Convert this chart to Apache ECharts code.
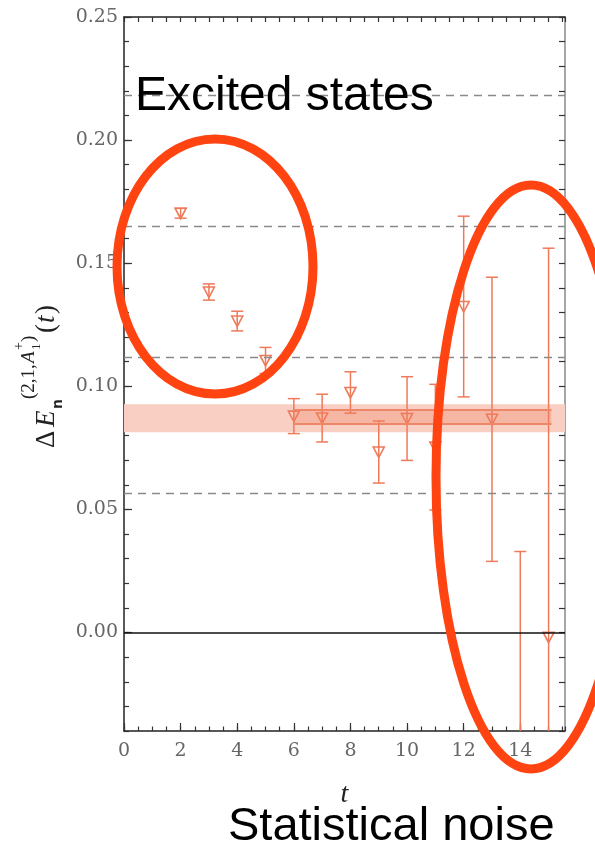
<!DOCTYPE html>
<html>
<head>
<meta charset="utf-8">
<title>Delta E plateau</title>
<script src="https://cdn.jsdelivr.net/npm/echarts@6/dist/echarts.min.js"></script>
<style>
  html, body { margin: 0; padding: 0; background: #fff; }
  #chart { width: 595px; height: 845px; }
</style>
</head>
<body>
<div id="chart"></div>
<script>
// data
var tValues   = [2, 3, 4, 5, 6, 7, 8, 9, 10, 11, 12, 13, 14, 15];
var dE        = [0.1703, 0.1383, 0.1265, 0.1105, 0.0879, 0.0871, 0.0975, 0.0733, 0.0869, 0.0753, 0.1324, 0.0866, -0.060, -0.0019];
var dEerr     = [0.0020, 0.0033, 0.0040, 0.0053, 0.0071, 0.0097, 0.0084, 0.0126, 0.0170, 0.0255, 0.0367, 0.0577, 0.0929, 0.1580];
var freeLevels = [0.0565, 0.1118, 0.1652, 0.2183];   // dashed lines
var fitOuter  = [0.0813, 0.0927];
var fitInner  = [0.0846, 0.0906];
var fitRange  = [6, 15.1];
var xTicks    = { min: 0, max: 15.58, major: 2, minor: 0.5 };
var yTicks    = { min: -0.04, max: 0.25, major: 0.05, minor: 0.01 };

var pts = tValues.map(function (t, i) { return [t, dE[i], dEerr[i]]; });

var col = '#ef7a5a';
var serif = 'DejaVu Serif';
var chart = echarts.init(document.getElementById('chart'));

function errItem(params, api) {
    var t = api.value(0), v = api.value(1), e = api.value(2);
    var hi = api.coord([t, v + e]), lo = api.coord([t, v - e]), c = api.coord([t, v]);
    var w = 6;
    return {
        type: 'group',
        children: [
            { type: 'line', shape: { x1: hi[0], y1: hi[1], x2: lo[0], y2: lo[1] }, style: { stroke: col, lineWidth: 1.5 } },
            { type: 'line', shape: { x1: hi[0] - w, y1: hi[1], x2: hi[0] + w, y2: hi[1] }, style: { stroke: col, lineWidth: 1.5 } },
            { type: 'line', shape: { x1: lo[0] - w, y1: lo[1], x2: lo[0] + w, y2: lo[1] }, style: { stroke: col, lineWidth: 1.5 } },
            { type: 'polygon', shape: { points: [[c[0] - 5.5, c[1] - 5], [c[0] + 5.5, c[1] - 5], [c[0], c[1] + 5.5]] },
              style: { stroke: col, fill: 'rgba(255,255,255,0)', lineWidth: 1.6 } }
        ]
    };
}

var noLabel = { show: false };
var tickStyle = { color: '#333', width: 1.2 };
var option = {
    animation: false,
    backgroundColor: '#fff',
    grid: { left: 124, right: 30, top: 17, bottom: 114 },
    xAxis: [
        {
            type: 'value', min: xTicks.min, max: xTicks.max, interval: xTicks.major, position: 'bottom',
            axisLine: { onZero: false, lineStyle: { color: '#222', width: 1.5 } },
            axisTick: { inside: true, length: 8, lineStyle: tickStyle },
            axisLabel: { margin: 11, fontFamily: serif, fontSize: 19, color: '#666', showMaxLabel: false },
            splitLine: { show: false },
            name: 't', nameLocation: 'middle', nameGap: 50,
            nameTextStyle: { fontFamily: 'Liberation Serif', fontStyle: 'italic', fontSize: 28, color: '#222' }
        },
        {
            type: 'value', min: xTicks.min, max: xTicks.max, interval: xTicks.minor, position: 'bottom',
            axisLine: { show: false, onZero: false }, axisLabel: noLabel, splitLine: { show: false },
            axisTick: { inside: true, length: 4.5, lineStyle: tickStyle }
        },
        {
            type: 'value', min: xTicks.min, max: xTicks.max, interval: xTicks.minor, position: 'top',
            axisLine: { onZero: false, lineStyle: { color: '#222', width: 1.5 } }, axisLabel: noLabel, splitLine: { show: false },
            axisTick: { inside: true, length: 5, lineStyle: tickStyle }
        }
    ],
    yAxis: [
        {
            type: 'value', min: yTicks.min, max: yTicks.max, minInterval: yTicks.major, maxInterval: yTicks.major,
            position: 'left',
            axisLine: { onZero: false, lineStyle: { color: '#222', width: 1.5 } },
            axisTick: { inside: true, length: 8, lineStyle: tickStyle },
            axisLabel: { margin: 6, fontFamily: serif, fontSize: 19, color: '#666', showMinLabel: false,
                         formatter: function (v) { return v.toFixed(2); } },
            splitLine: { show: false }
        },
        {
            type: 'value', min: yTicks.min, max: yTicks.max, interval: yTicks.minor, position: 'left',
            axisLine: { show: false, onZero: false }, axisLabel: noLabel, splitLine: { show: false },
            axisTick: { inside: true, length: 5, lineStyle: tickStyle }
        },
        {
            type: 'value', min: yTicks.min, max: yTicks.max, interval: yTicks.minor, position: 'right',
            axisLine: { onZero: false, lineStyle: { color: '#888', width: 1.5 } }, axisLabel: noLabel, splitLine: { show: false },
            axisTick: { inside: true, length: 6, lineStyle: tickStyle }
        }
    ],
    series: [
        {
            // fit bands
            type: 'line', data: [], z: 1, silent: true,
            markArea: {
                silent: true,
                data: [
                    [{ yAxis: fitOuter[0], itemStyle: { color: '#f9cfc4' } }, { yAxis: fitOuter[1] }],
                    [{ coord: [fitRange[0], fitInner[0]], itemStyle: { color: '#f5b6a4' } }, { coord: [fitRange[1], fitInner[1]] }]
                ]
            }
        },
        {
            // reference lines
            type: 'line', data: [], z: 2, silent: true,
            markLine: {
                silent: true, symbol: 'none', label: { show: false }, precision: 5,
                data: freeLevels.map(function (v) {
                    return { yAxis: v, lineStyle: { color: '#8a8a8a', type: [8, 6], width: 1.3 } };
                }).concat([
                    { yAxis: 0, lineStyle: { color: '#111', type: 'solid', width: 1.5 } },
                    [{ coord: [fitRange[0], fitInner[0]], lineStyle: { color: '#ee8668', type: 'solid', width: 2 } }, { coord: [fitRange[1], fitInner[0]] }],
                    [{ coord: [fitRange[0], fitInner[1]], lineStyle: { color: '#ee8668', type: 'solid', width: 2 } }, { coord: [fitRange[1], fitInner[1]] }]
                ])
            }
        },
        {
            type: 'custom', z: 3, clip: true, renderItem: errItem,
            encode: { x: 0, y: 1 }, data: pts
        }
    ],
    graphic: [
        {
            type: 'group', x: 56, y: 448, rotation: Math.PI / 2, z: 10,
            children: [
                { type: 'text', x: 0, y: -9, style: { text: 'Δ', font: '27px "Liberation Serif"', fill: '#222', verticalAlign: 'middle' } },
                { type: 'text', x: 21, y: -9, style: { text: 'E', font: 'italic 27px "Liberation Serif"', fill: '#222', verticalAlign: 'middle' } },
                { type: 'text', x: 39, y: 2, style: { text: 'n', font: 'bold 14px "DejaVu Sans"', fill: '#222', verticalAlign: 'middle' } },
                { type: 'text', x: 49, y: -27, style: { text: '(2,1,', font: '19px "Liberation Serif"', fill: '#222', verticalAlign: 'middle' } },
                { type: 'text', x: 85, y: -27, style: { text: 'A', font: 'italic 19px "Liberation Serif"', fill: '#222', verticalAlign: 'middle' } },
                { type: 'text', x: 98, y: -19, style: { text: '1', font: '13px "Liberation Serif"', fill: '#222', verticalAlign: 'middle' } },
                { type: 'text', x: 98, y: -37, style: { text: '+', font: '14px "Liberation Serif"', fill: '#222', verticalAlign: 'middle' } },
                { type: 'text', x: 106, y: -27, style: { text: ')', font: '19px "Liberation Serif"', fill: '#222', verticalAlign: 'middle' } },
                { type: 'text', x: 115, y: -9, style: { text: '(', font: '27px "Liberation Serif"', fill: '#222', verticalAlign: 'middle' } },
                { type: 'text', x: 125, y: -9, style: { text: 't', font: 'italic 27px "Liberation Serif"', fill: '#222', verticalAlign: 'middle' } },
                { type: 'text', x: 134, y: -9, style: { text: ')', font: '27px "Liberation Serif"', fill: '#222', verticalAlign: 'middle' } }
            ]
        },
        {
            type: 'text', left: 135, top: 73, z: 20,
            style: { text: 'Excited states', font: '48px "Liberation Sans"', fill: '#000' }
        },
        {
            type: 'text', left: 228, top: 804, z: 20,
            style: { text: 'Statistical noise', font: '47px "Liberation Sans"', fill: '#000' }
        },
        {
            type: 'ellipse', z: 30, silent: true,
            shape: { cx: 215, cy: 266.5, rx: 98, ry: 127.5 },
            style: { stroke: '#ff4411', lineWidth: 9, fill: null }
        },
        {
            type: 'ellipse', z: 30, silent: true,
            shape: { cx: 531, cy: 477, rx: 95, ry: 292 },
            style: { stroke: '#ff4411', lineWidth: 9, fill: null }
        }
    ]
};

chart.setOption(option);
</script>
</body>
</html>
